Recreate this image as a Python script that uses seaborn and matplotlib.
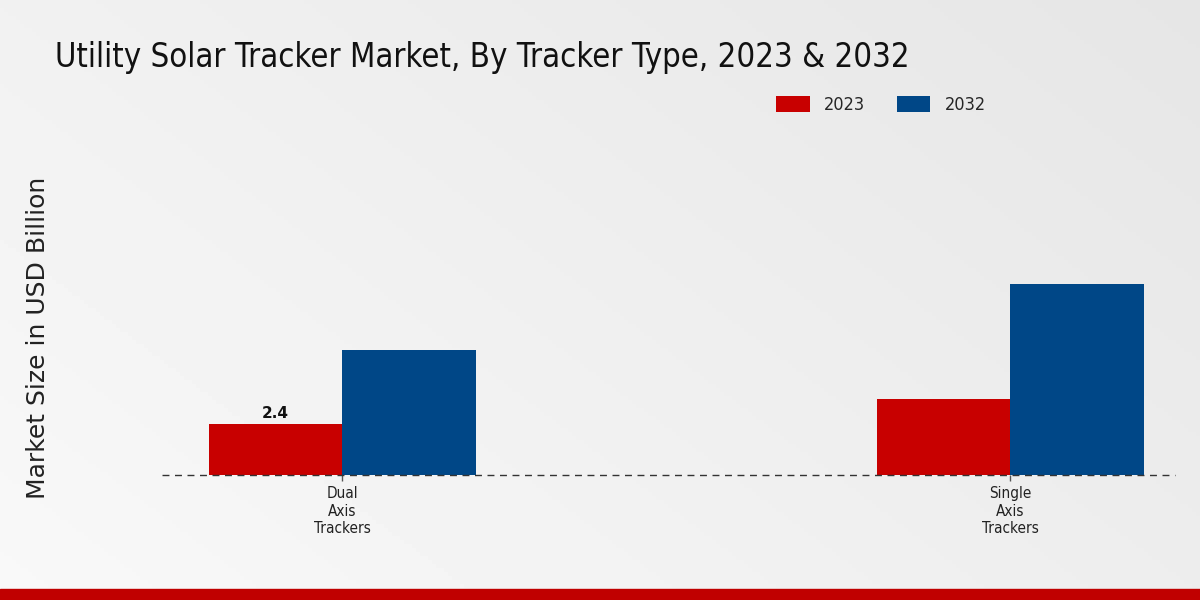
import numpy as np
import pandas as pd
import matplotlib
matplotlib.use("Agg")
import matplotlib.pyplot as plt
import seaborn as sns
from matplotlib.patches import Patch

categories = ["Dual\nAxis\nTrackers", "Single\nAxis\nTrackers"]
years = ["2023", "2032"]
values_2023 = [2.4, 3.6]
values_2032 = [5.9, 9.0]
bar_labels_2023 = ["2.4", ""]

colors = {"2023": "#c80000", "2032": "#004787"}

df = pd.DataFrame({
    "category": categories * 2,
    "year": [years[0]] * len(categories) + [years[1]] * len(categories),
    "value": values_2023 + values_2032,
})

sns.set_theme(style="white")
plt.rcParams['font.family'] = ['DejaVu Sans']

fig = plt.figure(figsize=(12, 6), dpi=100)

# background gradient
bg = fig.add_axes([0, 0, 1, 1], zorder=-10)
xx, yy = np.meshgrid(np.linspace(0, 1, 300), np.linspace(0, 1, 150))
grad = 0.975 - 0.075 * (0.6 * xx + 0.4 * (1 - yy))
bg.imshow(grad, cmap="gray", vmin=0, vmax=1, aspect="auto", extent=[0, 1, 0, 1], origin="upper")
bg.set_xlim(0, 1); bg.set_ylim(0, 1)
bg.axis("off")
bg.add_patch(plt.Rectangle((0, 0), 1, 11 / 600, color="#c00000", transform=bg.transAxes))

ax = fig.add_axes([162 / 1200, (600 - 475) / 600, (1175 - 162) / 1200, 325 / 600])
ax.set_facecolor("none")
sns.barplot(data=df, x="category", y="value", hue="year", palette=colors,
            width=0.4, saturation=1, ax=ax, legend=False)
for p in ax.patches:
    p.set_edgecolor("none")

ax.set_xlim(-0.27, 1.247)
ax.set_ylim(0, 15.3)
ax.set_yticks([])
ax.set_xlabel("")
ax.set_ylabel("")
for s in ["top", "right", "left", "bottom"]:
    ax.spines[s].set_visible(False)
ax.axhline(0, color="#333333", linestyle=(0, (5, 4)), linewidth=1, clip_on=False)
ax.tick_params(axis="x", length=4, width=1, color="#555555", labelsize=11, pad=4, bottom=True)
for t in ax.get_xticklabels():
    t.set_linespacing(1.2)
    t.set_color("#222222")
    t.set_fontstretch("condensed")

cont = ax.containers[0]
ax.bar_label(cont, labels=bar_labels_2023, padding=2, fontsize=11, fontweight="bold", color="#111111")

fig.text(38 / 1200, 1 - 338 / 600, "Market Size in USD Billion", rotation=90,
         ha="center", va="center", fontsize=18, color="#222222")

fig.text(55 / 1200, 1 - 57 / 600, "Utility Solar Tracker Market, By Tracker Type, 2023 & 2032",
         ha="left", va="center", fontsize=23.6, color="#111111", fontstretch="condensed")

handles = [Patch(facecolor=colors[y], edgecolor="none", label=y) for y in years]
leg = fig.legend(handles=handles, loc="center", bbox_to_anchor=(881 / 1200, 1 - 105 / 600), ncol=2,
                 frameon=False, handlelength=1.85, handleheight=0.95, columnspacing=1.75,
                 handletextpad=0.8, prop={"size": 13, "stretch": "condensed"})

fig.savefig("out.png", dpi=100)
